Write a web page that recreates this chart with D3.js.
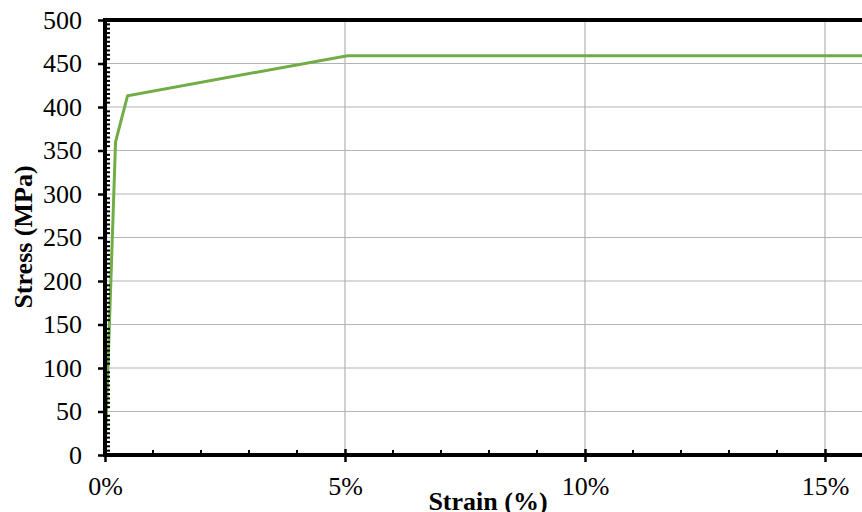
<!DOCTYPE html>
<html>
<head>
<meta charset="utf-8">
<script src="https://cdn.jsdelivr.net/npm/d3@7"></script>
<style>
  body { margin: 0; background: #fff; }
  svg { display: block; }
  text { font-family: "Liberation Serif", "Times New Roman", serif; fill: #000; }
</style>
</head>
<body>
<div id="chart"></div>
<script>
// Stress-strain curve values
const strainPct = [0, 0.22, 0.47, 5.05, 16];
const stressMPa = [0, 360, 413, 459, 459];

const yTicks = [0, 50, 100, 150, 200, 250, 300, 350, 400, 450, 500];
const xTicks = [0, 5, 10, 15];

const width = 862, height = 512;
const margin = { left: 105, top: 20, bottom: 57 };
const plotBottom = height - margin.bottom;

var svg = d3.select("#chart")
    .append("svg")
    .attr("width", width)
    .attr("height", height);

// scales: 48px per 1 % strain, chart runs off the right edge
var x = d3.scaleLinear().domain([0, 16]).range([margin.left, margin.left + 48 * 16]);
var y = d3.scaleLinear().domain([0, 500]).range([plotBottom, margin.top]);

// gridlines
svg.append("g")
    .selectAll("line.hgrid")
    .data(yTicks.filter(d => d > 0 && d < 500))
    .enter().append("line")
    .attr("x1", margin.left).attr("x2", width)
    .attr("y1", d => y(d)).attr("y2", d => y(d))
    .style("stroke", "#b3b3b3").style("stroke-width", 1.2);

svg.append("g")
    .selectAll("line.vgrid")
    .data(xTicks.filter(d => d > 0))
    .enter().append("line")
    .attr("x1", d => x(d)).attr("x2", d => x(d))
    .attr("y1", margin.top).attr("y2", plotBottom)
    .style("stroke", "#b3b3b3").style("stroke-width", 1.2);

// the curve
var line = d3.line()
    .x((d, i) => x(strainPct[i]))
    .y(d => y(d));

svg.append("path")
    .datum(stressMPa)
    .attr("d", line)
    .style("fill", "none")
    .style("stroke", "#70ad47")
    .style("stroke-width", 3)
    .style("stroke-linejoin", "miter");

// top border
svg.append("line")
    .attr("x1", margin.left - 2).attr("x2", width)
    .attr("y1", y(500)).attr("y2", y(500))
    .style("stroke", "#000").style("stroke-width", 4);

// y axis: major ticks outside, minor ticks inside every 5 MPa
var yMinor = d3.range(5, 500, 5).filter(d => d % 50 !== 0);
svg.append("g")
    .selectAll("line")
    .data(yMinor)
    .enter().append("line")
    .attr("x1", margin.left).attr("x2", margin.left + 5)
    .attr("y1", d => y(d)).attr("y2", d => y(d))
    .style("stroke", "#000").style("stroke-width", 2);

var yAxis = d3.axisLeft(y).tickValues(yTicks).tickSize(7).tickPadding(16);
var gy = svg.append("g")
    .attr("transform", "translate(" + margin.left + ",0)")
    .call(yAxis)
    .attr("font-family", "'Liberation Serif', serif")
    .attr("font-size", 26);
gy.select(".domain").remove();
gy.selectAll(".tick line").style("stroke", "#000").style("stroke-width", 2.5);

svg.append("line")
    .attr("x1", margin.left).attr("x2", margin.left)
    .attr("y1", margin.top - 2).attr("y2", plotBottom + 2)
    .style("stroke", "#000").style("stroke-width", 4);

// x axis: minor ticks inside every 1 %, major ticks crossing
var xMinor = d3.range(1, 16, 1).filter(d => d % 5 !== 0);
svg.append("g")
    .selectAll("line")
    .data(xMinor)
    .enter().append("line")
    .attr("x1", d => x(d)).attr("x2", d => x(d))
    .attr("y1", plotBottom).attr("y2", plotBottom - 5)
    .style("stroke", "#000").style("stroke-width", 2);

var xAxis = d3.axisBottom(x).tickValues(xTicks).tickSize(7).tickPadding(15)
    .tickFormat(d => d + "%");
var gx = svg.append("g")
    .attr("transform", "translate(0," + plotBottom + ")")
    .call(xAxis)
    .attr("font-family", "'Liberation Serif', serif")
    .attr("font-size", 26);
gx.select(".domain").remove();
gx.selectAll(".tick line").attr("y1", -6).style("stroke", "#000").style("stroke-width", 2.5);

svg.append("line")
    .attr("x1", margin.left - 2).attr("x2", width)
    .attr("y1", plotBottom).attr("y2", plotBottom)
    .style("stroke", "#000").style("stroke-width", 4);

// axis titles
svg.append("text")
    .attr("x", 488).attr("y", 510)
    .attr("text-anchor", "middle")
    .style("font-size", "26px").style("font-weight", "bold")
    .text("Strain (%)");

svg.append("text")
    .attr("transform", "translate(32," + 237 + ") rotate(-90)")
    .attr("text-anchor", "middle")
    .style("font-size", "26px").style("font-weight", "bold")
    .text("Stress (MPa)");
</script>
</body>
</html>
